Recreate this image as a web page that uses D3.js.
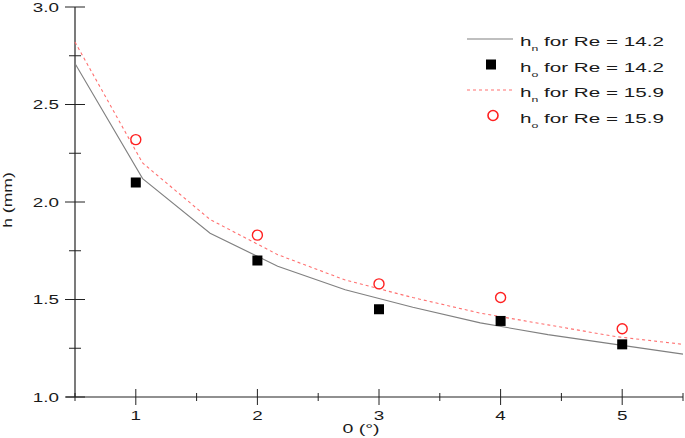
<!DOCTYPE html>
<html><head><meta charset="utf-8">
<script src="https://cdn.jsdelivr.net/npm/d3@7"></script>
<style>body{margin:0;background:#fff}svg{display:block}text{font-family:"Liberation Sans",Arial,sans-serif;fill:#1a1a1a}</style>
</head><body><svg id="c" width="685" height="438"></svg>
<script>
// Data
const curveX = [0.5, 1.056, 1.611, 2.167, 2.722, 3.278, 3.833, 4.389, 4.944, 5.5];
const hn142 = [2.71, 2.12, 1.84, 1.67, 1.55, 1.46, 1.38, 1.32, 1.27, 1.22];
const hn159 = [2.82, 2.20, 1.91, 1.73, 1.60, 1.51, 1.43, 1.37, 1.31, 1.27];
const expX = [1, 2, 3, 4, 5];
const ho142 = [2.10, 1.70, 1.45, 1.39, 1.27];
const ho159 = [2.32, 1.83, 1.58, 1.51, 1.35];
const xTicks = [1, 2, 3, 4, 5];
const yTicks = [1.0, 1.5, 2.0, 2.5, 3.0];
const legendLabels = [
  {sub: "n", rest: " for Re = 14.2", type: "solid"},
  {sub: "o", rest: " for Re = 14.2", type: "square"},
  {sub: "n", rest: " for Re = 15.9", type: "dash"},
  {sub: "o", rest: " for Re = 15.9", type: "circle"}
];

const SX = 1.45; // horizontal stretch of the reference lettering
const svg = d3.select("#c");
const x = d3.scaleLinear().domain([0.5, 5.5]).range([75, 683]);
const y = d3.scaleLinear().domain([1, 3]).range([397, 7]);

function stext(g, tx, ty, str, size, anchor) {
  return g.append("text").attr("transform", `translate(${tx},${ty}) scale(${SX},1)`)
    .attr("text-anchor", anchor || "start").attr("font-size", size).text(str);
}

// x axis
const gx = svg.append("g");
gx.append("line").attr("x1", 66).attr("x2", x(5.5)).attr("y1", y(1)).attr("y2", y(1)).attr("stroke", "#222").attr("stroke-width", 1.2);
const xMinor = d3.range(0.5, 5.51, 0.5).filter(v => !xTicks.includes(v));
gx.selectAll(".xmin").data(xMinor).join("line").attr("x1", d => x(d)).attr("x2", d => x(d))
  .attr("y1", y(1) - 4).attr("y2", y(1) + 4).attr("stroke", "#222");
gx.selectAll(".xmaj").data(xTicks).join("line").attr("x1", d => x(d)).attr("x2", d => x(d))
  .attr("y1", y(1) - 8).attr("y2", y(1) + 8).attr("stroke", "#222");
xTicks.forEach(d => stext(gx, x(d), 420, String(d), 13, "middle"));
stext(svg, 361, 433, "0 (°)", 13.5, "middle");

// y axis
const gy = svg.append("g");
gy.append("line").attr("x1", x(0.5)).attr("x2", x(0.5)).attr("y1", y(1)).attr("y2", y(3)).attr("stroke", "#222").attr("stroke-width", 1.2);
const yMinor = [1.25, 1.75, 2.25, 2.75];
gy.selectAll(".ymin").data(yMinor).join("line").attr("y1", d => y(d)).attr("y2", d => y(d))
  .attr("x1", x(0.5) - 6).attr("x2", x(0.5) + 6).attr("stroke", "#222");
gy.selectAll(".ymaj").data(yTicks).join("line").attr("y1", d => y(d)).attr("y2", d => y(d))
  .attr("x1", x(0.5) - 10).attr("x2", x(0.5) + 10).attr("stroke", "#222");
yTicks.forEach(d => stext(gy, 59, y(d) + 4.5, d.toFixed(1), 13, "end"));
svg.append("text").attr("transform", `translate(12,200) rotate(-90) scale(1.35,1)`).attr("text-anchor", "middle")
  .attr("font-size", 13).text("h (mm)");

// lines
const line = d3.line().x(d => x(d[0])).y(d => y(d[1]));
svg.append("path").datum(curveX.map((v, i) => [v, hn142[i]])).attr("d", line)
  .attr("fill", "none").attr("stroke", "#808080").attr("stroke-width", 1.1);
svg.append("path").datum(curveX.map((v, i) => [v, hn159[i]])).attr("d", line)
  .attr("fill", "none").attr("stroke", "#ff7070").attr("stroke-width", 1.1).attr("stroke-dasharray", "3,3");

// markers
svg.selectAll(".sq").data(expX.map((v, i) => [v, ho142[i]])).join("rect")
  .attr("x", d => x(d[0]) - 5).attr("y", d => y(d[1]) - 5).attr("width", 10).attr("height", 10).attr("fill", "#000");
svg.selectAll(".ci").data(expX.map((v, i) => [v, ho159[i]])).join("circle")
  .attr("cx", d => x(d[0])).attr("cy", d => y(d[1])).attr("r", 5)
  .attr("fill", "none").attr("stroke", "#ff2020").attr("stroke-width", 1.4);

// legend
const lg = svg.append("g");
legendLabels.forEach((L, i) => {
  const cy = 39 + i * 25.5;
  if (L.type === "solid") lg.append("line").attr("x1", 467).attr("x2", 513).attr("y1", cy).attr("y2", cy).attr("stroke", "#808080").attr("stroke-width", 1.1);
  if (L.type === "dash") lg.append("line").attr("x1", 467).attr("x2", 513).attr("y1", cy).attr("y2", cy).attr("stroke", "#ff7070").attr("stroke-width", 1.1).attr("stroke-dasharray", "3,3");
  if (L.type === "square") lg.append("rect").attr("x", 486).attr("y", cy - 5).attr("width", 10).attr("height", 10).attr("fill", "#000");
  if (L.type === "circle") lg.append("circle").attr("cx", 493).attr("cy", cy).attr("r", 5).attr("fill", "none").attr("stroke", "#ff2020").attr("stroke-width", 1.6);
  const t = lg.append("text").attr("transform", `translate(520,${cy + 7}) scale(1.53,1)`).attr("font-size", 13.5);
  t.append("tspan").text("h");
  t.append("tspan").attr("font-size", 8).attr("dy", 5).text(L.sub);
  t.append("tspan").attr("dy", -5).text(L.rest);
});
</script></body></html>
